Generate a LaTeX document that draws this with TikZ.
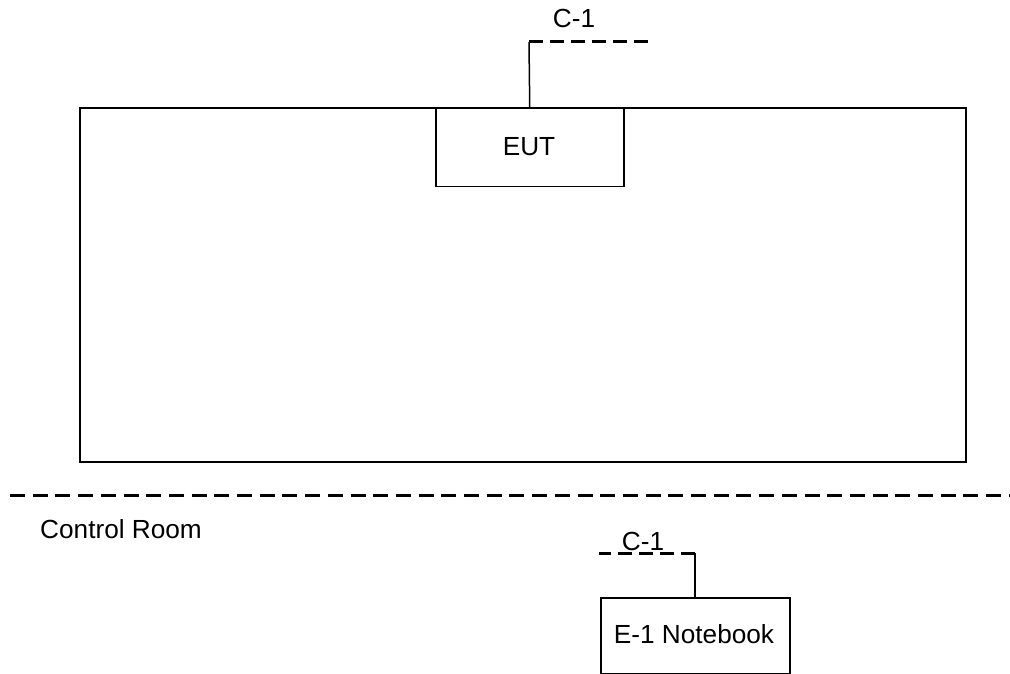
\documentclass[tikz,border=0pt]{standalone}
\usepackage{fontspec}
\setmainfont{Liberation Sans}
\begin{document}
\begin{tikzpicture}[x=1pt,y=-1pt,
  thinline/.style={line width=1.5pt, draw=black},
  cabledash/.style={line width=3pt, draw=black, dash pattern=on 14pt off 7pt},
  sepdash/.style={line width=3pt, draw=black, dash pattern=on 15pt off 7.7pt},
  lbl/.style={font=\fontsize{26.2}{30}\selectfont, anchor=base, inner sep=0pt}]
\useasboundingbox (0,0) rectangle (1010,674);
% test room
\draw[thinline] (80,108) rectangle (966,462);
\node[thinline, draw, minimum width=188pt, minimum height=78pt, anchor=north west, inner sep=0pt] (eut) at (435,108) {};
\node[lbl] (eutlbl) at (529,156) {EUT};
\coordinate (c1corner) at (529,42);
\coordinate (c1end) at (648,42);
\draw[thinline] (eut.north) -- (c1corner);
\draw[cabledash] (c1corner) -- (c1end);
\node[lbl] (c1top) at (574,28) {C-1};
% separator
\coordinate (sepL) at (10,495);
\coordinate (sepR) at (1010,495);
\draw[sepdash] (sepL) -- (sepR);
\node[lbl, anchor=base west] (ctrl) at (40,538) {Control Room};
% notebook
\node[thinline, draw, minimum width=189pt, minimum height=76pt, anchor=north west, inner sep=0pt] (nb) at (600,597) {};
\node[lbl] (nblbl) at (694,643) {E-1 Notebook};
\coordinate (c2corner) at (695,553);
\coordinate (c2end) at (599,553);
\draw[thinline] (695,597) -- (c2corner);
\draw[cabledash] (c2corner) -- (c2end);
\node[lbl] (c1bot) at (643,550) {C-1};
\end{tikzpicture}
\end{document}
